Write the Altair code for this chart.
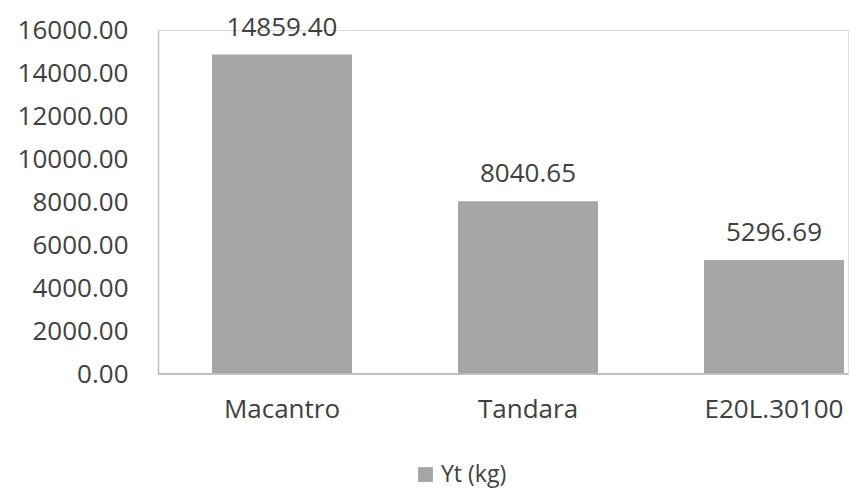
import altair as alt
import pandas as pd

categories = ["Macantro", "Tandara", "E20L.30100"]
values = [14859.40, 8040.65, 5296.69]
series_name = "Yt (kg)"
y_ticks = [0, 2000, 4000, 6000, 8000, 10000, 12000, 14000, 16000]

df = pd.DataFrame({
    "cat": categories,
    "val": values,
    "series": [series_name] * len(categories),
    "label": [f"{v:.2f}" for v in values],
})

FONT = "Open Sans"
FS = 26
TXT = "#404040"
AXC = "#bfbfbf"
BAR = "#a6a6a6"
W, H = 690, 344

x_enc = alt.X(
    "cat:N",
    sort=categories,
    scale=alt.Scale(range=[0, 740], paddingInner=0.431, paddingOuter=0.2195),
    axis=alt.Axis(title=None, labelAngle=0, domain=False, ticks=False,
                  labelPadding=22, labelFont=FONT, labelFontSize=FS,
                  labelColor=TXT, grid=False),
)
y_enc = alt.Y(
    "val:Q",
    scale=alt.Scale(domain=[0, 16000], nice=False),
    axis=alt.Axis(title=None, values=y_ticks, format=".2f", ticks=False,
                  labelPadding=30, domainColor=AXC, domainWidth=1.5,
                  labelFont=FONT, labelFontSize=FS, labelColor=TXT, grid=False),
)

bars = alt.Chart(df).mark_bar(size=140).encode(
    x=x_enc,
    y=y_enc,
    color=alt.Color(
        "series:N",
        scale=alt.Scale(range=[BAR]),
        legend=alt.Legend(title=None, orient="none", legendX=256, legendY=433,
                          symbolType="square", symbolSize=220, symbolStrokeWidth=0,
                          labelFont=FONT, labelFontSize=23, labelColor=TXT),
    ),
)

labels = alt.Chart(df).mark_text(
    font=FONT, fontSize=FS, color=TXT, baseline="alphabetic", dy=-19
).encode(x=alt.X("cat:N", sort=categories), y="val:Q", text="label:N")

baseline_rule = alt.Chart(df).mark_rule(color=AXC, strokeWidth=1.5).encode(
    x=alt.value(0), x2=alt.value(W), y=alt.value(H)
)

chart = alt.layer(bars, labels, baseline_rule).properties(
    width=W, height=H,
    autosize=alt.AutoSizeParams(type="none"),
    padding={"left": 158, "top": 30, "right": 2, "bottom": 115},
).configure_view(stroke=None).configure(background="white")

chart.save("out.html", embed_options={"renderer": "svg", "actions": False})
